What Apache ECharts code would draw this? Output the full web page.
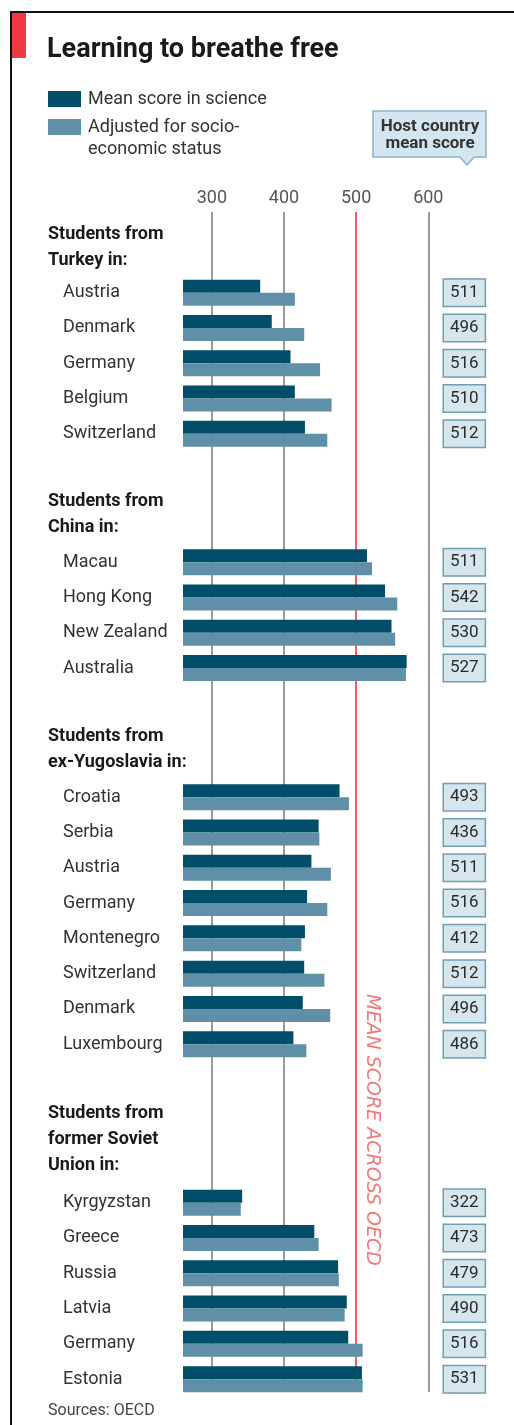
<!DOCTYPE html>
<html>
<head>
<meta charset="utf-8">
<script src="https://cdn.jsdelivr.net/npm/echarts@6/dist/echarts.min.js"></script>
<style>
html,body{margin:0;padding:0;background:#fff;}
#chart{width:514px;height:1425px;}
</style>
</head>
<body>
<div id="chart"></div>
<script>
// ---- data ----
const tickValues = [300, 400, 500, 600];
const oecdMean = 500;

const turkeyCountries = ['Austria', 'Denmark', 'Germany', 'Belgium', 'Switzerland'];
const turkeyScience  = [367, 383, 409, 415, 429];
const turkeyAdjusted = [415, 428, 450, 466, 460];
const turkeyHost     = [511, 496, 516, 510, 512];

const chinaCountries = ['Macau', 'Hong Kong', 'New Zealand', 'Australia'];
const chinaScience  = [515, 540, 549, 570];
const chinaAdjusted = [522, 557, 554, 569];
const chinaHost     = [511, 542, 530, 527];

const yugoCountries = ['Croatia', 'Serbia', 'Austria', 'Germany', 'Montenegro', 'Switzerland', 'Denmark', 'Luxembourg'];
const yugoScience  = [477, 448, 438, 432, 429, 428, 426, 413];
const yugoAdjusted = [490, 449, 465, 460, 424, 456, 464, 431];
const yugoHost     = [493, 436, 511, 516, 412, 512, 496, 486];

const sovietCountries = ['Kyrgyzstan', 'Greece', 'Russia', 'Latvia', 'Germany', 'Estonia'];
const sovietScience  = [342, 442, 475, 487, 489, 508];
const sovietAdjusted = [340, 448, 476, 484, 509, 509];
const sovietHost     = [322, 473, 479, 490, 516, 531];

const sectionTitles = ['Students from\nTurkey in:', 'Students from\nChina in:', 'Students from\nex-Yugoslavia in:', 'Students from\nformer Soviet\nUnion in:'];
const legendNames = ['Mean score in science', 'Adjusted for socio-\neconomic status'];

// ---- layout ----
const FONT = 'Roboto, "Noto Sans", sans-serif';
const DARK = '#004e6a';
const LIGHT = '#5f90a7';
const AX_MIN = 260, AX_MAX = 600;
const GRID_LEFT = 183, GRID_W = 245.3;
const BAND = 35.3;
const sections = [
  {countries: turkeyCountries, sci: turkeyScience, adj: turkeyAdjusted, host: turkeyHost, top: 275, head: 221},
  {countries: chinaCountries, sci: chinaScience, adj: chinaAdjusted, host: chinaHost, top: 544.5, head: 488},
  {countries: yugoCountries, sci: yugoScience, adj: yugoAdjusted, host: yugoHost, top: 779.5, head: 723},
  {countries: sovietCountries, sci: sovietScience, adj: sovietAdjusted, host: sovietHost, top: 1185, head: 1100}
];

const grid = [{left: GRID_LEFT, width: GRID_W, top: 212, height: 1180}];
const xAxis = [{gridIndex: 0, type: 'value', min: AX_MIN, max: AX_MAX, show: false}];
const yAxis = [{gridIndex: 0, type: 'value', min: 0, max: 1, show: false}];
const series = [{
  type: 'line', xAxisIndex: 0, yAxisIndex: 0, data: [], z: 1, silent: true,
  markLine: {
    silent: true, z: 1, symbol: ['none', 'none'], animation: false,
    label: {show: true, position: 'end', distance: 5, formatter: p => String(p.value), color: '#555', fontSize: 18, fontFamily: FONT},
    data: tickValues.map(v => ({
      xAxis: v,
      lineStyle: {color: v === oecdMean ? '#ee2a2a' : '#7a7a7a', width: 1.5, type: 'solid'}
    }))
  }
}];

sections.forEach((s, i) => {
  const gi = i + 1;
  grid.push({left: GRID_LEFT, width: GRID_W, top: s.top, height: s.countries.length * BAND});
  xAxis.push({gridIndex: gi, type: 'value', min: AX_MIN, max: AX_MAX, show: false});
  yAxis.push({
    gridIndex: gi, type: 'category', inverse: true, data: s.countries,
    axisLine: {show: false}, axisTick: {show: false}, splitLine: {show: false},
    axisLabel: {interval: 0, align: 'left', margin: 120, fontSize: 18, color: '#333', fontFamily: FONT}
  });
  yAxis.push({
    gridIndex: gi, type: 'category', inverse: true, position: 'right', data: s.countries,
    axisLine: {show: false}, axisTick: {show: false}, splitLine: {show: false},
    axisLabel: {
      interval: 0, align: 'center', margin: 36,
      formatter: (v, idx) => String(s.host[idx]),
      fontSize: 17, color: '#2b2b2b', fontFamily: FONT, lineHeight: 18,
      backgroundColor: '#d5e6ee', borderColor: '#6f9fb5', borderWidth: 1.5,
      padding: [4, 6, 4, 6]
    }
  });
  const yLeft = yAxis.length - 2;
  series.push({
    name: legendNames[0], type: 'bar', xAxisIndex: gi, yAxisIndex: yLeft,
    data: s.sci, barWidth: 13, barGap: '0%', itemStyle: {color: DARK}, z: 10, silent: true
  });
  series.push({
    name: legendNames[1], type: 'bar', xAxisIndex: gi, yAxisIndex: yLeft,
    data: s.adj, barWidth: 13, barGap: '0%', itemStyle: {color: LIGHT}, z: 10, silent: true
  });
});

const graphic = [
  {type: 'line', shape: {x1: 10, y1: 12, x2: 514, y2: 12}, style: {stroke: '#111', lineWidth: 2}},
  {type: 'line', shape: {x1: 11, y1: 12, x2: 11, y2: 1425}, style: {stroke: '#111', lineWidth: 2}},
  {type: 'rect', shape: {x: 12, y: 13, width: 14, height: 45}, style: {fill: '#ef3a43'}},
  {type: 'text', x: 47, y: 50, style: {text: 'Learning to breathe free', fontSize: 27, fontWeight: 'bold', fontFamily: FONT, fill: '#1a1a1a', verticalAlign: 'middle'}},
  {type: 'rect', shape: {x: 48, y: 91, width: 33, height: 16}, style: {fill: DARK}},
  {type: 'text', x: 88, y: 99, style: {text: legendNames[0], fontSize: 18, fontFamily: FONT, fill: '#333', verticalAlign: 'middle'}},
  {type: 'rect', shape: {x: 48, y: 119, width: 33, height: 16}, style: {fill: LIGHT}},
  {type: 'text', x: 88, y: 116, style: {text: legendNames[1], fontSize: 18, lineHeight: 22, fontFamily: FONT, fill: '#333', verticalAlign: 'top'}},
  {type: 'polygon', shape: {points: [[373, 111], [486, 111], [486, 157], [474, 157], [467, 165], [460, 157], [373, 157]]}, style: {fill: '#d3e5ee', stroke: '#8db4c7', lineWidth: 1.5}},
  {type: 'text', x: 430, y: 135, style: {text: 'Host country\nmean score', fontSize: 17, lineHeight: 17, fontWeight: 'bold', fontFamily: FONT, fill: '#333', align: 'center', verticalAlign: 'middle'}},
  {type: 'text', x: 372, y: 1130, rotation: -Math.PI / 2, style: {text: 'MEAN SCORE ACROSS OECD', fontSize: 19, fontStyle: 'italic', fontFamily: '"DejaVu Sans", sans-serif', fill: '#f27a7a', align: 'center', verticalAlign: 'middle'}},
  {type: 'text', x: 48, y: 1411, style: {text: 'Sources: OECD', fontSize: 16, fontFamily: FONT, fill: '#444', verticalAlign: 'middle'}}
];
sections.forEach((s, i) => {
  graphic.push({type: 'text', x: 48, y: s.head, style: {text: sectionTitles[i], fontSize: 18, lineHeight: 26, fontWeight: 'bold', fontFamily: FONT, fill: '#1a1a1a', verticalAlign: 'top'}});
});

const chart = echarts.init(document.getElementById('chart'), null, {renderer: 'canvas'});
chart.setOption({
  animation: false,
  backgroundColor: '#fff',
  grid, xAxis, yAxis, series, graphic
});
</script>
</body>
</html>
